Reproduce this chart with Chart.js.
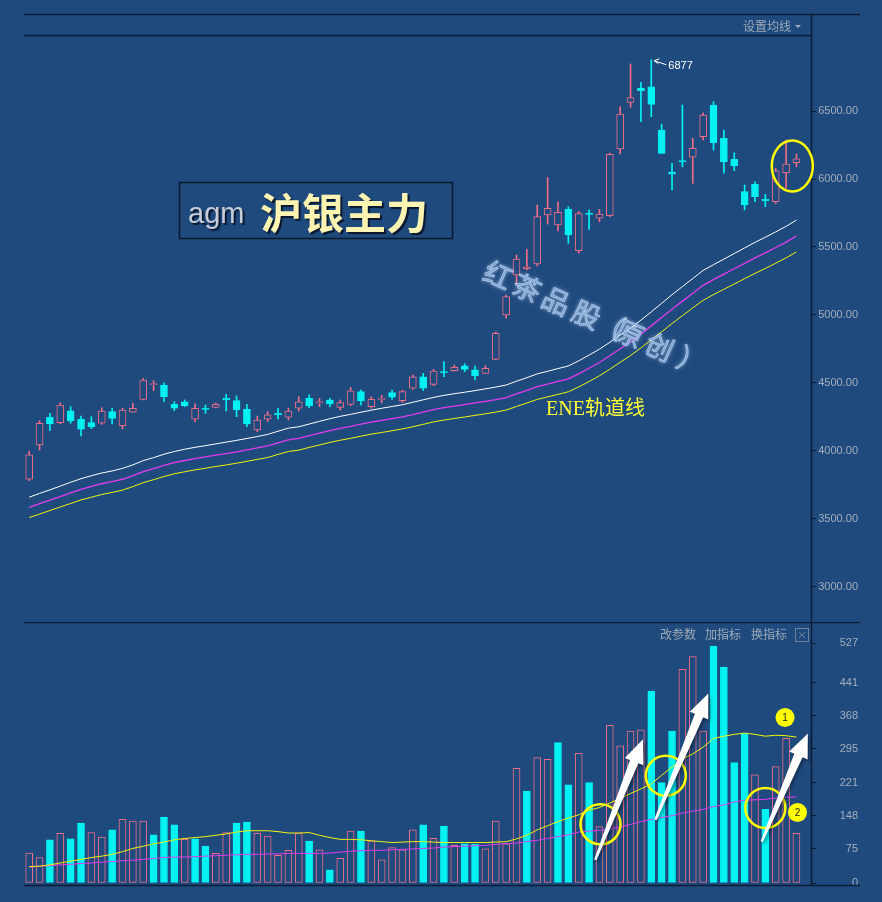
<!DOCTYPE html>
<html>
<head>
<meta charset="utf-8">
<style>
  body { margin: 0; background: #1f4a7e; width: 882px; height: 902px; overflow: hidden; position: relative; }
  canvas { position: absolute; left: 0; }
  #priceChart { top: 0; }
  #volChart { top: 622px; }
</style>
<script src="https://cdn.jsdelivr.net/npm/chart.js"></script>
</head>
<body>
<canvas id="priceChart" width="882" height="660"></canvas>
<canvas id="volChart" width="882" height="280"></canvas>
<script>
// daily bars
const opens  = [3792,4044,4248,4208,4296,4233,4208,4204,4289,4186,4285,4380,4488,4485,4343,4362,4233,4314,4321,4387,
                4370,4307,4154,4233,4277,4248,4314,4387,4355,4375,4321,4343,4436,4326,4380,4429,4370,4461,4546,4490,
                4583,4590,4627,4596,4571,4674,5000,5294,5340,5375,5735,5662,5777,5473,5750,5712,5730,6221,6564,6667,
                6677,6360,6049,6135,6160,6311,6544,6299,6145,5907,5961,5853,5833,6046,6120];
const highs  = [3998,4223,4277,4355,4326,4257,4252,4318,4314,4314,4351,4534,4517,4502,4362,4375,4346,4338,4353,4417,
                4404,4343,4257,4289,4314,4314,4399,4412,4387,4387,4375,4468,4448,4399,4409,4448,4448,4559,4571,4600,
                4657,4632,4642,4625,4627,4875,5147,5441,5483,5809,6012,5833,5796,5760,5772,5777,6191,6532,6846,6711,
                6877,6404,6115,6544,6299,6487,6568,6360,6193,5956,5980,5887,6078,6287,6184];
const lows   = [3782,4007,4149,4199,4204,4110,4164,4196,4199,4162,4285,4375,4444,4362,4296,4326,4216,4277,4318,4294,
                4252,4179,4142,4216,4235,4228,4294,4318,4326,4326,4301,4333,4338,4314,4353,4380,4358,4453,4444,4480,
                4546,4588,4583,4522,4571,4669,4976,5221,5331,5360,5669,5618,5527,5454,5630,5686,5723,6184,6527,6421,
                6458,6189,5919,6090,5968,6287,6213,6042,6061,5772,5833,5796,5821,5932,6090];
const closes = [3971,4204,4199,4338,4221,4160,4179,4294,4240,4301,4314,4522,4492,4399,4314,4333,4314,4306,4343,4375,
                4301,4199,4228,4265,4265,4294,4362,4333,4362,4346,4355,4443,4368,4380,4387,4395,4436,4546,4461,4588,
                4576,4615,4600,4552,4608,4865,5135,5412,5355,5723,5784,5755,5588,5745,5740,5742,6182,6478,6598,6649,
                6549,6189,6035,6125,6226,6471,6267,6127,6098,5809,5870,5840,6061,6110,6149];
const volumes = [66,56,95,109,97,132,111,101,117,140,136,136,106,145,128,96,97,81,65,111,
                 132,134,109,103,61,72,110,92,73,29,54,114,114,92,51,78,73,117,128,98,
                 125,83,86,85,75,136,86,252,202,276,272,309,216,285,221,124,347,302,334,337,
                 422,221,334,470,498,334,521,475,265,329,238,162,256,318,109];

// ENE channel (upper / middle / lower)
const eneUpper = [3660,3688,3714,3742,3770,3796,3818,3838,3853,3872,3898,3929,3951,3976,3996,4013,4027,4039,4052,4065,
                  4078,4092,4106,4122,4145,4168,4178,4198,4218,4237,4255,4269,4285,4300,4314,4327,4340,4358,4376,4394,
                  4409,4421,4432,4444,4457,4470,4485,4513,4539,4567,4586,4606,4625,4663,4705,4749,4799,4852,4904,4962,
                  5023,5086,5149,5209,5268,5328,5370,5411,5452,5493,5534,5572,5611,5652,5698];
const eneMid   = [3585,3612,3638,3665,3692,3718,3739,3759,3774,3792,3818,3848,3870,3894,3914,3930,3944,3956,3969,3981,
                  3994,4008,4022,4037,4060,4082,4092,4112,4131,4150,4167,4181,4197,4212,4225,4238,4251,4268,4286,4304,
                  4318,4330,4341,4353,4365,4378,4393,4420,4446,4473,4492,4511,4530,4567,4608,4651,4700,4752,4803,4860,
                  4920,4981,5043,5102,5160,5218,5260,5300,5340,5380,5420,5457,5496,5536,5581];
const eneLower = [3510,3536,3562,3588,3614,3640,3660,3680,3695,3712,3738,3767,3789,3812,3832,3847,3861,3873,3886,3897,
                  3910,3924,3938,3952,3975,3996,4006,4026,4044,4063,4079,4093,4109,4124,4136,4149,4162,4178,4196,4214,
                  4227,4239,4250,4262,4273,4286,4301,4327,4353,4379,4398,4416,4435,4471,4511,4553,4601,4652,4702,4758,
                  4817,4876,4937,4995,5052,5108,5150,5189,5228,5267,5306,5342,5381,5420,5464];

// volume moving averages
const volMaFast = [36,37,40,44,48,52,56,59,63,69,76,81,86,90,95,98,100,102,105,108,
                   112,115,115,115,113,110,110,111,105,100,96,96,95,93,91,89,90,91,91,90,
                   89,89,89,89,89,90,91,97,105,117,126,135,143,150,160,166,176,186,197,207,
                   218,237,255,273,284,299,318,323,327,330,327,323,325,324,321];
const volMaSlow = [35,37,38,40,41,43,44,46,47,49,50,52,54,56,57,57,58,59,60,61,
                   62,63,63,64,64,65,65,65,65,66,68,70,71,72,72,73,74,75,76,77,
                   79,80,81,82,83,85,87,88,91,94,98,102,106,112,114,116,119,123,129,135,
                   140,144,148,154,158,162,168,172,178,182,183,184,187,189,189];

const priceTicks = [3000, 3500, 4000, 4500, 5000, 5500, 6000, 6500];
const volumeTicks = [0, 75, 148, 221, 295, 368, 441, 527];

// hand-drawn marks, in data coordinates: [bar index, value]
const peakMark = [60, 6877];
const priceRing = [73.6, 6096];
const volumeRings = [[55.1, 129], [61.4, 236], [71.0, 165]];
const volumeArrows = [[[54.6, 51], [59.2, 316]], [[60.4, 139], [65.5, 417]], [[70.65, 91], [75.1, 329]]];
const numberBadges = [['1', 72.9, 364], ['2', 74.1, 155]];

const BG = '#1f4a7e', UP = '#ee6c86', DOWN = '#00f2f2', EDGE = '#0d1d35', AXIS_TEXT = '#a4aebc';

const labels = opens.map((_, i) => 'K' + (i + 1)).concat(['']);
const isUp = opens.map((o, i) => closes[i] >= o);
const volUp = closes.map((c, i) => i === 0 ? isUp[0] : c >= closes[i - 1]);

function rightAxis(min, max, tickValues, fmt) {
  return {
    position: 'right', min: min, max: max,
    afterFit(s) { s.width = 46; },
    afterBuildTicks(s) { s.ticks = tickValues.map(v => ({ value: v })); },
    border: { display: false },
    grid: { drawOnChartArea: false, drawTicks: true, tickLength: 4, color: EDGE },
    ticks: { color: AXIS_TEXT, font: { family: 'Liberation Sans', size: 11 }, padding: 2, crossAlign: 'far', callback: fmt }
  };
}

function line(ctx, x0, y0, x1, y1) {
  ctx.beginPath(); ctx.moveTo(x0, y0); ctx.lineTo(x1, y1); ctx.stroke();
}

function drawArrow(ctx, x0, y0, x1, y1) {
  const dx = x1 - x0, dy = y1 - y0, len = Math.hypot(dx, dy);
  const ux = dx / len, uy = dy / len, nx = -uy, ny = ux;
  const headLen = 24, headW = 10, tailW = 1.2, neckW = 4.5;
  const bx = x1 - ux * headLen, by = y1 - uy * headLen;
  ctx.beginPath();
  ctx.moveTo(x0 + nx * tailW, y0 + ny * tailW);
  ctx.lineTo(bx + nx * neckW, by + ny * neckW);
  ctx.lineTo(bx + nx * headW, by + ny * headW);
  ctx.lineTo(x1, y1);
  ctx.lineTo(bx - nx * headW, by - ny * headW);
  ctx.lineTo(bx - nx * neckW, by - ny * neckW);
  ctx.lineTo(x0 - nx * tailW, y0 - ny * tailW);
  ctx.closePath();
  ctx.fill();
}

// frame, title box, watermark and notes of the price panel
const priceOverlay = {
  id: 'priceOverlay',
  afterDraw(chart) {
    const ctx = chart.ctx, xs = chart.scales.x, ys = chart.scales.y;
    ctx.save();
    ctx.strokeStyle = EDGE; ctx.lineWidth = 1.5;
    line(ctx, 24, 14.5, 860, 14.5);
    line(ctx, 24, 35.5, 811, 35.5);
    line(ctx, 811.5, 14, 811.5, 622);

    ctx.font = '12px "Noto Sans CJK SC"';
    ctx.fillStyle = '#9fa9b8'; ctx.textBaseline = 'middle'; ctx.textAlign = 'left';
    ctx.fillText('设置均线', 743, 26);
    ctx.beginPath(); ctx.moveTo(795, 25); ctx.lineTo(801, 25); ctx.lineTo(798, 28); ctx.closePath(); ctx.fill();

    // title box
    ctx.strokeStyle = '#0b182c'; ctx.lineWidth = 1.5;
    ctx.strokeRect(179.5, 182.5, 273, 56);
    ctx.textBaseline = 'alphabetic';
    ctx.shadowColor = 'rgba(8,18,36,0.9)'; ctx.shadowOffsetX = 2; ctx.shadowOffsetY = 2; ctx.shadowBlur = 1;
    ctx.font = '29px "Liberation Sans"'; ctx.fillStyle = '#c6cdd8';
    ctx.fillText('agm', 188, 223);
    ctx.font = 'bold 42px "Noto Sans CJK SC"'; ctx.fillStyle = '#fbf3b2';
    ctx.fillText('沪银主力', 260, 229);
    ctx.shadowColor = 'transparent'; ctx.shadowOffsetX = 0; ctx.shadowOffsetY = 0; ctx.shadowBlur = 0;

    // watermark
    ctx.save();
    ctx.translate(498, 275);
    ctx.rotate(24 * Math.PI / 180);
    ctx.font = '28px "Noto Sans CJK SC"';
    ctx.textAlign = 'center'; ctx.textBaseline = 'middle';
    const chars = '红茶品股（原创）'.split('');
    const steps = [0, 32, 64, 97, 123, 144, 177, 212];
    chars.forEach((c, k) => {
      ctx.shadowColor = 'rgba(200,225,255,0.8)'; ctx.shadowBlur = 4;
      ctx.fillStyle = 'rgba(130,170,220,0.9)';
      ctx.fillText(c, steps[k], 0);
      ctx.shadowBlur = 0;
      ctx.strokeStyle = 'rgba(220,236,255,0.6)'; ctx.lineWidth = 0.7;
      ctx.strokeText(c, steps[k], 0);
    });
    ctx.restore();

    ctx.font = '20px "Liberation Serif", "Noto Sans CJK SC"';
    ctx.fillStyle = '#ffff33'; ctx.textAlign = 'left'; ctx.textBaseline = 'alphabetic';
    ctx.fillText('ENE轨道线', 546, 415);

    // peak note
    const px = xs.getPixelForValue(peakMark[0]), py = ys.getPixelForValue(peakMark[1]);
    ctx.strokeStyle = '#ffffff'; ctx.lineWidth = 1;
    line(ctx, px + 3, py + 1, px + 15, py + 5);
    line(ctx, px + 3, py + 1, px + 8, py - 1);
    line(ctx, px + 3, py + 1, px + 7, py + 4);
    ctx.font = '11px "Liberation Sans"'; ctx.fillStyle = '#ffffff'; ctx.textBaseline = 'middle';
    ctx.fillText(String(peakMark[1]), px + 17, py + 6);

    // ring around the last bars
    ctx.strokeStyle = '#ffff00'; ctx.lineWidth = 2.5;
    ctx.beginPath();
    ctx.ellipse(xs.getPixelForValue(priceRing[0]), ys.getPixelForValue(priceRing[1]), 20.5, 25.5, 0, 0, Math.PI * 2);
    ctx.stroke();
    ctx.restore();
  }
};

// frame, menu text and hand-drawn marks of the volume panel
const volumeOverlay = {
  id: 'volumeOverlay',
  afterDraw(chart) {
    const ctx = chart.ctx, xs = chart.scales.x, ys = chart.scales.y;
    ctx.save();
    ctx.strokeStyle = EDGE; ctx.lineWidth = 1.5;
    line(ctx, 24, 0.5, 860, 0.5);
    line(ctx, 24, 263.5, 860, 263.5);
    line(ctx, 811.5, 0, 811.5, 264);

    ctx.font = '12px "Noto Sans CJK SC"';
    ctx.fillStyle = '#9ea8b6'; ctx.textBaseline = 'middle'; ctx.textAlign = 'left';
    ctx.fillText('改参数', 660, 12);
    ctx.fillText('加指标', 705, 12);
    ctx.fillText('换指标', 751, 12);
    ctx.strokeStyle = '#6f7f96'; ctx.lineWidth = 1;
    ctx.strokeRect(795.5, 6.5, 13, 13);
    line(ctx, 799, 10, 805, 16);
    line(ctx, 805, 10, 799, 16);

    ctx.strokeStyle = '#ffff00'; ctx.lineWidth = 2.5;
    volumeRings.forEach(([i, v]) => {
      ctx.beginPath();
      ctx.ellipse(xs.getPixelForValue(i), ys.getPixelForValue(v), 20, 20, 0, 0, Math.PI * 2);
      ctx.stroke();
    });

    ctx.fillStyle = '#ffffff';
    ctx.shadowColor = 'rgba(0,0,0,0.35)'; ctx.shadowOffsetX = 2; ctx.shadowOffsetY = 2; ctx.shadowBlur = 3;
    volumeArrows.forEach(([a, b]) => {
      drawArrow(ctx, xs.getPixelForValue(a[0]), ys.getPixelForValue(a[1]),
                xs.getPixelForValue(b[0]), ys.getPixelForValue(b[1]));
    });
    ctx.shadowColor = 'transparent'; ctx.shadowOffsetX = 0; ctx.shadowOffsetY = 0; ctx.shadowBlur = 0;

    numberBadges.forEach(([t, i, v]) => {
      const x = xs.getPixelForValue(i), y = ys.getPixelForValue(v);
      ctx.fillStyle = '#ffff00';
      ctx.beginPath(); ctx.arc(x, y, 9.5, 0, Math.PI * 2); ctx.fill();
      ctx.fillStyle = '#222222'; ctx.font = '10px "Liberation Sans"'; ctx.textAlign = 'center';
      ctx.fillText(t, x, y + 0.5);
    });
    ctx.restore();
  }
};

new Chart(document.getElementById('priceChart'), {
  type: 'bar',
  data: {
    labels: labels,
    datasets: [
      {
        data: opens.map((o, i) => [Math.min(o, closes[i]), Math.max(o, closes[i])]),
        backgroundColor: isUp.map(u => u ? BG : DOWN),
        borderColor: isUp.map(u => u ? UP : DOWN),
        borderWidth: 1, borderSkipped: false, barThickness: 7, minBarLength: 1,
        grouped: false, order: 0
      },
      {
        data: lows.map((l, i) => [l, highs[i]]),
        backgroundColor: isUp.map(u => u ? UP : DOWN),
        borderWidth: 0, barThickness: 1, grouped: false, order: 1
      },
      { type: 'line', data: eneUpper, borderColor: '#ffffff', borderWidth: 1, pointRadius: 0, order: 2 },
      { type: 'line', data: eneMid, borderColor: '#e23cf0', borderWidth: 1.3, pointRadius: 0, order: 2 },
      { type: 'line', data: eneLower, borderColor: '#f4f40c', borderWidth: 1, pointRadius: 0, order: 2 }
    ]
  },
  options: {
    responsive: false,
    animation: false,
    layout: { padding: { left: 24, right: 24, top: 35, bottom: 40 } },
    plugins: { legend: { display: false }, tooltip: { enabled: false } },
    scales: {
      x: { display: false, offset: true },
      y: rightAxis(2757, 7059, priceTicks, v => Number(v).toFixed(2))
    }
  },
  plugins: [priceOverlay]
});

new Chart(document.getElementById('volChart'), {
  type: 'bar',
  data: {
    labels: labels,
    datasets: [
      {
        data: volumes,
        backgroundColor: volUp.map(u => u ? BG : DOWN),
        borderColor: volUp.map(u => u ? UP : DOWN),
        borderWidth: 1, borderSkipped: false, barThickness: 7,
        grouped: false, order: 1
      },
      { type: 'line', data: volMaFast, borderColor: '#f4f40c', borderWidth: 1, pointRadius: 0, order: 0 },
      { type: 'line', data: volMaSlow, borderColor: '#e23cf0', borderWidth: 1, pointRadius: 0, order: 0 }
    ]
  },
  options: {
    responsive: false,
    animation: false,
    layout: { padding: { left: 24, right: 24, top: 18, bottom: 19 } },
    plugins: { legend: { display: false }, tooltip: { enabled: false } },
    scales: {
      x: { display: false, offset: true },
      y: rightAxis(0, 534.6, volumeTicks, v => String(v))
    }
  },
  plugins: [volumeOverlay]
});
</script>
</body>
</html>
